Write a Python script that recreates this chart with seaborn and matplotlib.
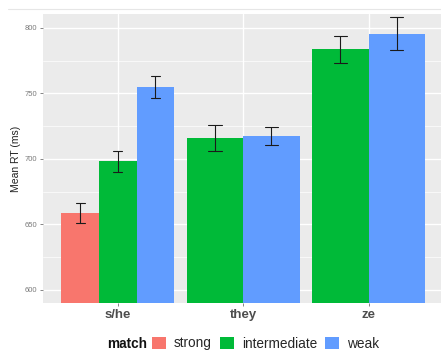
import matplotlib
matplotlib.use("Agg")
import matplotlib.pyplot as plt
from matplotlib.patches import Patch
from matplotlib.lines import Line2D
import seaborn as sns
import pandas as pd

# ---- data ----
categories = ["s/he", "they", "ze"]
match_levels = ["strong", "intermediate", "weak"]
bar_category = ["s/he", "s/he", "s/he", "they", "they", "ze", "ze"]
bar_match = ["strong", "intermediate", "weak", "intermediate", "weak", "intermediate", "weak"]
mean_rt = [658.5, 698.0, 755.0, 716.0, 717.5, 783.5, 795.5]
se_rt = [7.5, 8.0, 8.5, 10.0, 6.7, 10.5, 12.5]
yticks = [600, 650, 700, 750, 800]
colors = {"strong": "#F8766D", "intermediate": "#00BA38", "weak": "#619CFF"}

# table the library needs: mean-se, mean, mean+se per bar -> mean estimator, full-range interval
rows = []
for c, m, mu, e in zip(bar_category, bar_match, mean_rt, se_rt):
    for v in (mu - e, mu, mu + e):
        rows.append({"pronoun": c, "match": m, "rt": v})
df = pd.DataFrame(rows)

sns.set_theme(style="darkgrid")
plt.rcParams["font.family"] = ["Liberation Sans", "DejaVu Sans"]

W, H = 441, 356
fig = plt.figure(figsize=(W / 100, H / 100), dpi=100)
left, right, top, bottom = 42.5, 441, 14, 303
ax = fig.add_axes([left / W, 1 - bottom / H, (right - left) / W, (bottom - top) / H])
ax.set_facecolor("#EBEBEB")

for cat in categories:
    sub = df[df["pronoun"] == cat]
    present = [m for m in match_levels if m in set(sub["match"])]
    sns.barplot(data=sub, x="pronoun", y="rt", hue="match", order=categories,
                hue_order=present, palette=colors, width=0.9, dodge=True,
                estimator="mean", errorbar=("pi", 100), capsize=0.21,
                err_kws={"color": "#1a1a1a", "linewidth": 0.8},
                linewidth=0, saturation=1, legend=False, ax=ax)

ax.set_ylim(590, 810.5)
ax.set_xlim(-0.6, (right - 117.5) / 125.5)
ax.set_yticks(yticks)
ax.set_yticks([625, 675, 725, 775], minor=True)
ax.grid(True, which="major", color="white", linewidth=1.0)
ax.grid(True, which="minor", axis="y", color="white", linewidth=0.5)
ax.set_axisbelow(True)
for s in ax.spines.values():
    s.set_visible(False)
ax.tick_params(axis="y", which="major", length=2.5, width=0.5, color="#555555",
               labelsize=5.5, labelcolor="#7a7a7a", pad=1.5, left=True)
ax.tick_params(axis="y", which="minor", length=0)
ax.tick_params(axis="x", length=2.5, width=0.5, color="#555555", labelsize=9.5,
               labelcolor="#4D4D4D", pad=1.5, bottom=True)
for lab in ax.get_xticklabels():
    lab.set_fontweight("bold")
ax.set_xlabel("")
ax.set_ylabel("Mean RT (ms)", fontsize=7.5, color="#222222", labelpad=2.5)

# faint top line
fig.add_artist(Line2D([8 / W, 1], [1 - 9 / H, 1 - 9 / H], color="#e6e6e6", linewidth=0.8))

# legend
fig.text(107 / W, 1 - 343.5 / H, "match", fontsize=9.8, fontweight="bold",
         va="center", ha="left", color="#111111")
handles = [Patch(facecolor=colors[m], edgecolor="none", label=m) for m in match_levels]
fig.legend(handles=handles, ncol=3, loc="center left",
           bbox_to_anchor=(148 / W, 1 - 343.5 / H), frameon=False, fontsize=9.8,
           handlelength=1.05, handleheight=1.05, handletextpad=0.55,
           columnspacing=0.6, borderaxespad=0, borderpad=0.3)

fig.savefig("out.png", dpi=100)
